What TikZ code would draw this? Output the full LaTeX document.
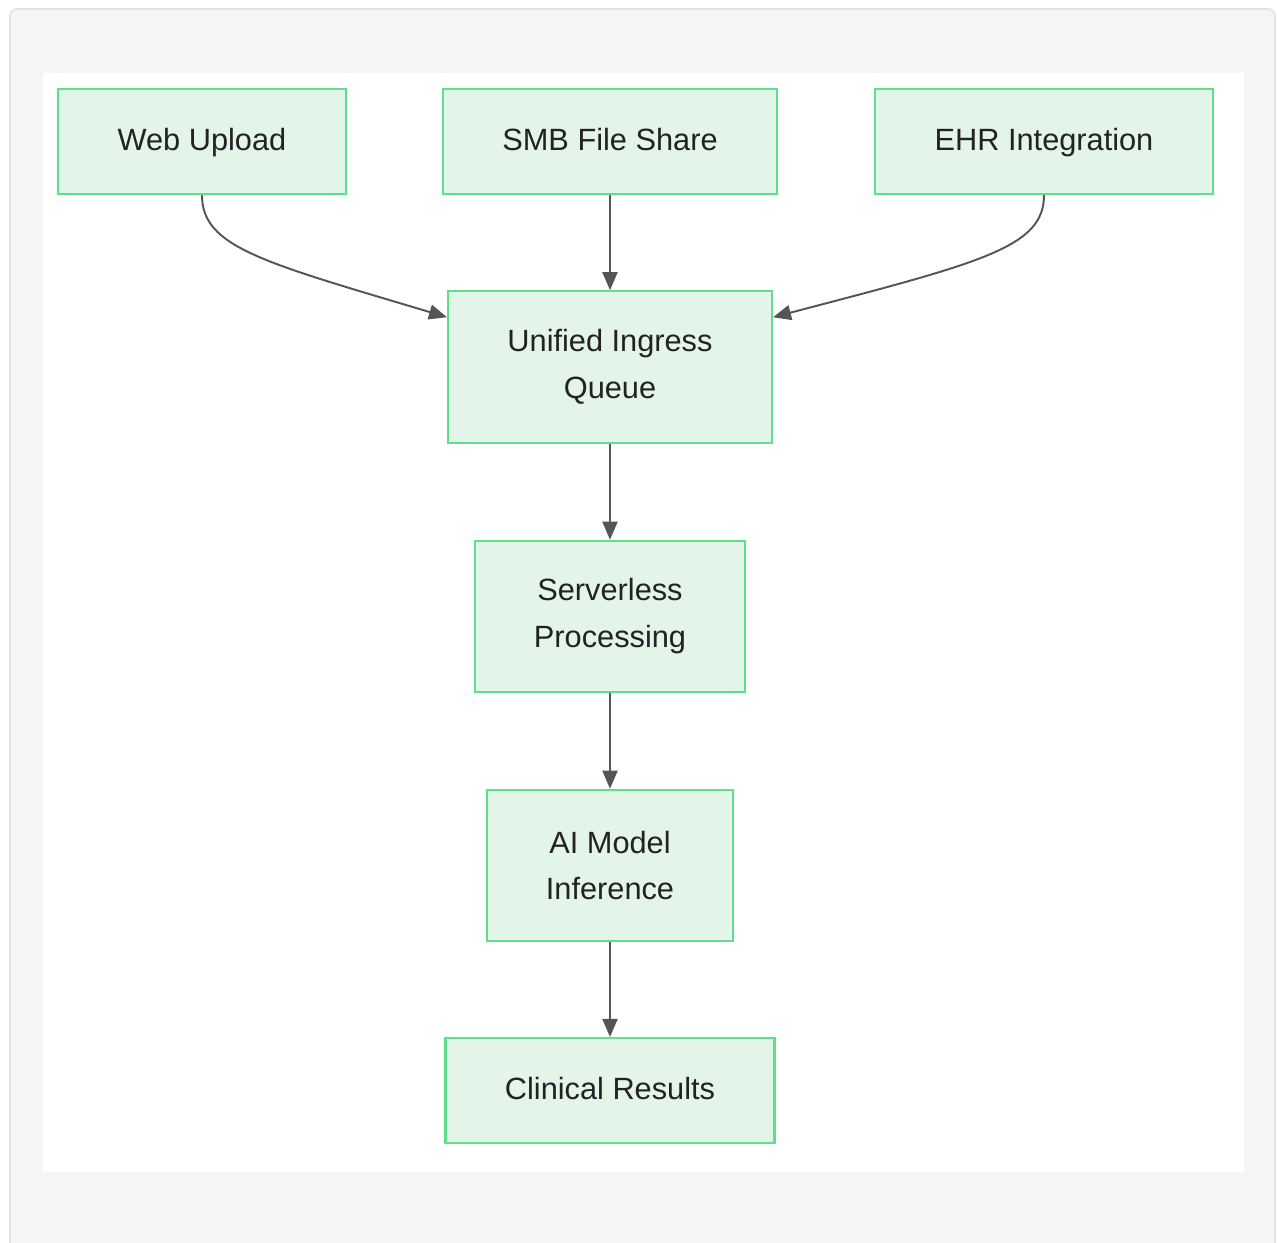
\documentclass[tikz,border=0pt]{standalone}
\usepackage{fontspec}
\setmainfont{Liberation Sans}
\usetikzlibrary{arrows.meta,positioning,calc}
\definecolor{stage}{HTML}{E3F4E9}
\definecolor{edge}{HTML}{5EE08A}
\definecolor{wire}{HTML}{555555}
\definecolor{ink}{HTML}{222222}
\definecolor{frame}{HTML}{F5F5F3}
\definecolor{framerule}{HTML}{E2E2E2}
\tikzset{box/.style={draw=edge,fill=stage,line width=1.2pt,align=center,inner sep=0pt,text=ink,font=\fontsize{17.5}{26.7}\selectfont},single/.style={box,minimum height=2.1cm,execute at begin node=\strut},double/.style={box,minimum height=3.03cm},arrow/.style={-{Triangle[length=3.6mm,width=3mm]},draw=wire,line width=1.1pt}}

\begin{document}
\begin{tikzpicture}[x=0.02cm,y=-0.02cm]
\useasboundingbox (0,0) rectangle (1277,1243);
\fill[frame,draw=framerule,line width=1pt,rounded corners=4pt] (10,9) rectangle (1275,1262);
\fill[white] (43,73) rectangle (1244,1172);
\node[single,minimum width=5.76cm] (web) at (202,141.5) {Web Upload};
\node[single,minimum width=6.68cm] (smb) at (610,141.5) {SMB File Share};
\node[single,minimum width=6.76cm] (ehr) at (1044,141.5) {EHR Integration};
\node[double,minimum width=6.48cm] (queue) at (610,367) {Unified Ingress\\Queue};
\node[double,minimum width=5.4cm] (proc) at (610,616.5) {Serverless\\Processing};
\node[double,minimum width=4.92cm] (infer) at (610,865.5) {AI Model\\Inference};
\node[single,minimum width=6.58cm] (result) at (610,1090.5) {Clinical Results};
\draw[arrow](web.south) .. controls ($(web.south)+(0,52)$) and (262,262) .. ($(queue.north west)+(0,27)$);
\draw[arrow](ehr.south) .. controls ($(ehr.south)+(0,52)$) and (984,262) .. ($(queue.north east)+(0,27)$);
\draw[arrow](smb)--(queue);\draw[arrow](queue)--(proc);
\draw[arrow](proc)--(infer);\draw[arrow](infer)--(result);
\end{tikzpicture}
\end{document}
